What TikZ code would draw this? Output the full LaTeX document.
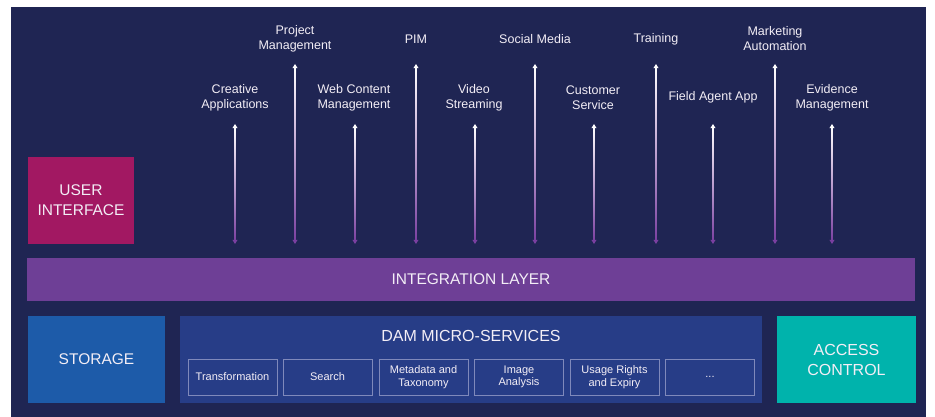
\documentclass[tikz,border=0pt]{standalone}
\usepackage{fontspec}
\setmainfont{Liberation Sans}
\usetikzlibrary{calc}
\definecolor{bgnavy}{HTML}{1F2553}
\definecolor{uimag}{HTML}{A21862}
\definecolor{intpurple}{HTML}{6E3F96}
\definecolor{storeblue}{HTML}{1D5BA9}
\definecolor{damblue}{HTML}{273D87}
\definecolor{accteal}{HTML}{00B3AC}
\definecolor{subline}{HTML}{7F89BB}
\definecolor{arrowpurple}{HTML}{7A3FA0}
\definecolor{txt}{HTML}{F3EEF6}

% vertical two-way connector, white at the top fading to purple at the bottom
\newcommand{\gradarrow}[2]{%
  \shade[top color=white, bottom color=arrowpurple]
    ($(#1)+(-0.7,2)$) rectangle ($(#2)+(0.7,-2)$);
  \fill[white] (#1) -- ++(-2.6,4.2) -- ++(5.2,0) -- cycle;
  \fill[arrowpurple] (#2) -- ++(-2.6,-4.2) -- ++(5.2,0) -- cycle;
}

\begin{document}
\begin{tikzpicture}[x=1pt,y=-1pt,
  block/.style={inner sep=0pt, text=txt, align=center,
    font=\fontsize{15.5}{20}\selectfont},
  lbl/.style={inner sep=0pt, text=txt, align=center,
    font=\fontsize{12.5}{15}\selectfont},
  subbox/.style={draw=subline, line width=0.8pt, inner sep=0pt,
    minimum width=89pt, minimum height=36pt, text=txt, align=center,
    font=\fontsize{11}{12.5}\selectfont}]
\useasboundingbox (0,0) rectangle (935,417);
\fill[white] (0,0) rectangle (935,417);
\fill[bgnavy] (11,7) rectangle (926,417);

% main layers
\node[block, fill=uimag, minimum width=106pt, minimum height=87pt] (ui) at (81,200.5) {USER\\INTERFACE};
\node[block, fill=intpurple, minimum width=888pt, minimum height=43pt] (il) at (471,279.5) {INTEGRATION LAYER};
\node[block, fill=storeblue, minimum width=137pt, minimum height=87pt] (st) at (96.5,359.5) {STORAGE};
\node[block, fill=damblue, minimum width=582pt, minimum height=87pt] (dam) at (471,359.5) {};
\node[block, font=\fontsize{16}{20}\selectfont] (damt) at (471,335.5) {DAM MICRO-SERVICES};
\node[block, fill=accteal, minimum width=139pt, minimum height=87pt, font=\fontsize{16}{20}\selectfont] (ac) at (846.5,359.5) {ACCESS\\CONTROL};

% micro-services
\node[subbox] (s1) at (232.5,377) {Transformation};
\node[subbox] (s2) at (327.5,377) {Search};
\node[subbox] (s3) at (423.5,377) {Metadata and\\Taxonomy};
\node[subbox] (s4) at (519,377) {Image\\Analysis};
\node[subbox] (s5) at (614.5,377) {Usage Rights\\and Expiry};
\node[subbox] (s6) at (710,377) {...};

% applications
\node[lbl] (a1)  at (235,97.5) {Creative\\Applications};
\node[lbl] (a2)  at (295,39)   {Project\\Management};
\node[lbl] (a3)  at (354,97.5) {Web Content\\Management};
\node[lbl] (a4)  at (416,39)   {PIM};
\node[lbl] (a5)  at (474,97.5) {Video\\Streaming};
\node[lbl] (a6)  at (535,39)   {Social Media};
\node[lbl] (a7)  at (593,97.5) {Customer\\Service};
\node[lbl] (a8)  at (656,39)   {Training};
\node[lbl] (a9)  at (713,97)   {Field Agent App};
\node[lbl] (a10) at (775,39)   {Marketing\\Automation};
\node[lbl] (a11) at (832,97.5) {Evidence\\Management};

% connector ends
\foreach \i/\x/\t in {1/235/124, 2/295/64, 3/355/124, 4/416/64, 5/475/124,
                      6/535/64, 7/594/124, 8/656/64, 9/713/124, 10/775/64, 11/832/124}{
  \coordinate (t\i) at (\x,\t);
  \coordinate (b\i) at (\x,244);
  \gradarrow{t\i}{b\i}
}
\end{tikzpicture}
\end{document}
